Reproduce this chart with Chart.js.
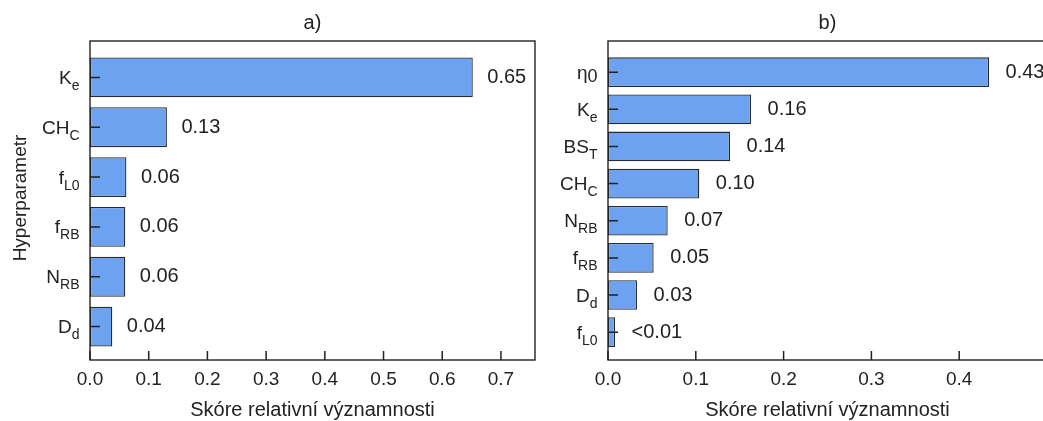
<!DOCTYPE html>
<html>
<head>
<meta charset="utf-8">
<title>Skóre relativní významnosti</title>
<script src="https://cdn.jsdelivr.net/npm/chart.js@4.4.0/dist/chart.umd.min.js"></script>
<style>
  html, body { margin: 0; padding: 0; background: #fff; overflow: hidden; }
  #wrap { position: relative; width: 1043px; height: 421px; overflow: hidden; }
  .panel { position: absolute; top: 0; height: 421px; }
  #pa { left: 0; width: 560px; }
  #pb { left: 520px; width: 560px; }
</style>
</head>
<body>
<div id="wrap">
  <div class="panel" id="pa"><canvas id="ca"></canvas></div>
  <div class="panel" id="pb"><canvas id="cb"></canvas></div>
</div>
<script>
// Panel a)
const namesA  = ['K', 'CH', 'f', 'f', 'N', 'D'];
const subsA   = ['e', 'C', 'L0', 'RB', 'RB', 'd'];
const scoresA = [0.652, 0.131, 0.062, 0.060, 0.060, 0.038];
const ticksA  = [0, 0.1, 0.2, 0.3, 0.4, 0.5, 0.6, 0.7];

// Panel b)
const namesB  = ['η', 'K', 'BS', 'CH', 'N', 'f', 'D', 'f'];
const subsB   = ['0', 'e', 'T', 'C', 'RB', 'RB', 'd', 'L0'];
const scoresB = [0.434, 0.163, 0.139, 0.104, 0.068, 0.052, 0.033, 0.008];
const ticksB  = [0, 0.1, 0.2, 0.3, 0.4];

const xTitle = 'Skóre relativní významnosti';
const yTitle = 'Hyperparametr';

const FONT = "'Liberation Sans', Arial, Helvetica, sans-serif";
const INK = '#222222';
const BAR_FILL = '#6ca2ef';
const BAR_EDGE = '#2a2a2a';

function valueText(v) {
  return v < 0.01 ? '<0.01' : v.toFixed(2);
}

function decorPlugin(p) {
  return {
    id: 'decor',
    afterDatasetsDraw(chart) {
      const { ctx, chartArea: a, scales: { x, y } } = chart;
      ctx.save();
      ctx.strokeStyle = INK;
      ctx.lineWidth = 1.5;
      // inward tick marks
      ctx.beginPath();
      x.ticks.forEach(t => {
        const px = x.getPixelForValue(t.value);
        ctx.moveTo(px, a.bottom);
        ctx.lineTo(px, a.bottom - 9);
      });
      y.ticks.forEach(t => {
        const py = y.getPixelForValue(t.value);
        ctx.moveTo(a.left, py);
        ctx.lineTo(a.left + 10, py);
      });
      ctx.stroke();
      // axes frame
      ctx.lineWidth = 1.4;
      ctx.strokeRect(a.left, a.top, a.right - a.left, a.bottom - a.top);

      ctx.fillStyle = INK;
      // category labels with subscripts
      p.names.forEach((name, i) => {
        const py = y.getPixelForValue(i);
        const sub = p.subs[i];
        const greek = /[\u0370-\u03ff]/.test(name);
        const subSize = greek ? 18 : 14;
        const subDrop = greek ? 3.5 : 6;
        ctx.font = '19px ' + FONT;
        const wMain = ctx.measureText(name).width;
        ctx.font = subSize + 'px ' + FONT;
        const wSub = ctx.measureText(sub).width;
        const right = a.left - 10.5;
        const x0 = right - wMain - wSub;
        ctx.textAlign = 'left';
        ctx.textBaseline = 'alphabetic';
        ctx.font = '19px ' + FONT;
        ctx.fillText(name, x0, py + 6.5);
        ctx.font = subSize + 'px ' + FONT;
        ctx.fillText(sub, x0 + wMain, py + 6.5 + subDrop);
      });
      // value labels beside bars
      ctx.font = '20px ' + FONT;
      ctx.textAlign = 'left';
      ctx.textBaseline = 'middle';
      p.values.forEach((v, i) => {
        const px = x.getPixelForValue(v);
        const py = y.getPixelForValue(i);
        ctx.fillText(valueText(v), px + p.labelGap, py);
      });
      // panel title
      ctx.textAlign = 'center';
      ctx.textBaseline = 'alphabetic';
      ctx.fillText(p.title, (a.left + a.right) / 2, 28.5);
      // x axis title
      ctx.fillText(xTitle, (a.left + a.right) / 2, 416);
      // y axis title
      if (p.yTitle) {
        ctx.save();
        ctx.font = '19px ' + FONT;
        ctx.translate(26, 198);
        ctx.rotate(-Math.PI / 2);
        ctx.textAlign = 'center';
        ctx.fillText(p.yTitle, 0, 0);
        ctx.restore();
      }
      ctx.restore();
    }
  };
}

function makePanel(canvasId, p) {
  return new Chart(document.getElementById(canvasId), {
    type: 'bar',
    data: {
      datasets: [{
        data: p.values.map((v, i) => ({ x: v, y: i })),
        backgroundColor: BAR_FILL,
        borderColor: BAR_EDGE,
        borderWidth: 1.3,
        borderSkipped: false,
        barPercentage: 0.8,
        categoryPercentage: 1.0
      }]
    },
    options: {
      indexAxis: 'y',
      responsive: true,
      maintainAspectRatio: false,
      animation: false,
      events: [],
      layout: { padding: { top: 41, right: p.padRight, left: 0, bottom: 0 } },
      plugins: { legend: { display: false }, tooltip: { enabled: false }, title: { display: false } },
      scales: {
        x: {
          type: 'linear',
          min: 0,
          max: p.xMax,
          afterBuildTicks: s => { s.ticks = p.ticks.map(v => ({ value: v })); },
          afterFit: s => { s.height = 61; },
          grid: { display: false },
          border: { display: false },
          ticks: {
            autoSkip: false,
            maxRotation: 0,
            padding: 0,
            color: INK,
            font: { family: FONT, size: 19 },
            callback: v => Number(v).toFixed(1)
          }
        },
        y: {
          type: 'linear',
          reverse: true,
          offset: false,
          min: p.yMin,
          max: p.yMax,
          afterBuildTicks: s => { s.ticks = p.names.map((_, i) => ({ value: i })); },
          afterFit: s => { s.width = p.axisLeft; },
          grid: { display: false, offset: false },
          border: { display: false },
          ticks: { display: false }
        }
      }
    },
    plugins: [decorPlugin(p)]
  });
}

makePanel('ca', {
  names: namesA, subs: subsA, values: scoresA, ticks: ticksA,
  title: 'a)', yTitle: yTitle,
  xMax: 0.758, yMin: -0.73, yMax: 5.67,
  axisLeft: 90, padRight: 25, labelGap: 14.5
});

makePanel('cb', {
  names: namesB, subs: subsB, values: scoresB, ticks: ticksB,
  title: 'b)', yTitle: null,
  xMax: 0.5, yMin: -0.84, yMax: 7.75,
  axisLeft: 88, padRight: 33, labelGap: 16.5
});
</script>
</body>
</html>
